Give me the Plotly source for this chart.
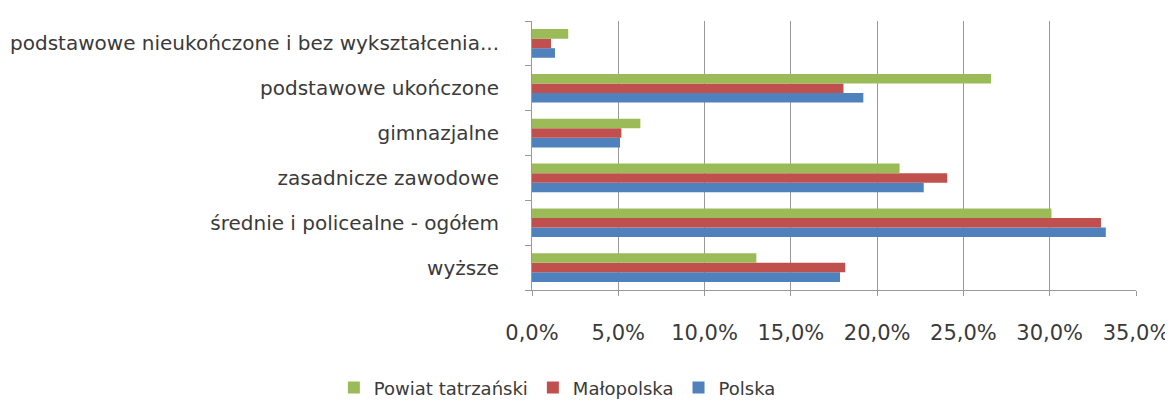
import plotly.graph_objects as go

categories = [
    "wyższe",
    "średnie i policealne - ogółem",
    "zasadnicze zawodowe",
    "gimnazjalne",
    "podstawowe ukończone",
    "podstawowe nieukończone i bez wykształcenia...",
]
polska = [0.1785, 0.3325, 0.227, 0.051, 0.192, 0.0133]
malopolska = [0.1815, 0.3297, 0.2406, 0.0518, 0.1805, 0.011]
powiat = [0.130, 0.301, 0.213, 0.0628, 0.266, 0.021]

series = [
    ("Polska", polska, "#4F81BD"),
    ("Małopolska", malopolska, "#C0504D"),
    ("Powiat tatrzański", powiat, "#9BBB59"),
]

fig = go.Figure()
for name, vals, color in series:
    fig.add_trace(go.Bar(
        y=categories, x=vals, name=name, orientation="h",
        marker=dict(color=color, line=dict(width=0)),
    ))

font_family = "DejaVu Sans, sans-serif"
fig.update_layout(
    width=1165, height=398,
    margin=dict(l=524, r=37, t=13, b=116, autoexpand=False),
    barmode="group", bargap=0.36, bargroupgap=0,
    plot_bgcolor="white", paper_bgcolor="white",
    font=dict(family=font_family, size=20, color="#3a3a3a"),
    legend=dict(
        orientation="h", traceorder="reversed",
        x=0.042, xanchor="center", y=-0.364, yanchor="middle",
        font=dict(size=18), itemwidth=30,
    ),
    xaxis=dict(
        range=[0, 0.35], dtick=0.05, tickformat=".1%",
        showgrid=True, gridcolor="#999999", gridwidth=1,
        showline=True, linecolor="#999999", ticks="outside", ticklen=5,
        tickcolor="#999999", zeroline=False, fixedrange=True,
        ticklabelstandoff=19, automargin=False,
        tickfont=dict(size=21),
    ),
    yaxis=dict(
        showgrid=False, showline=True, linecolor="#999999",
        ticks="outside", tickson="boundaries", ticklen=6, tickcolor="#999999",
        ticklabelstandoff=28, automargin=False,
    ),
    separators=", ",
)

fig.write_html("out.html")
